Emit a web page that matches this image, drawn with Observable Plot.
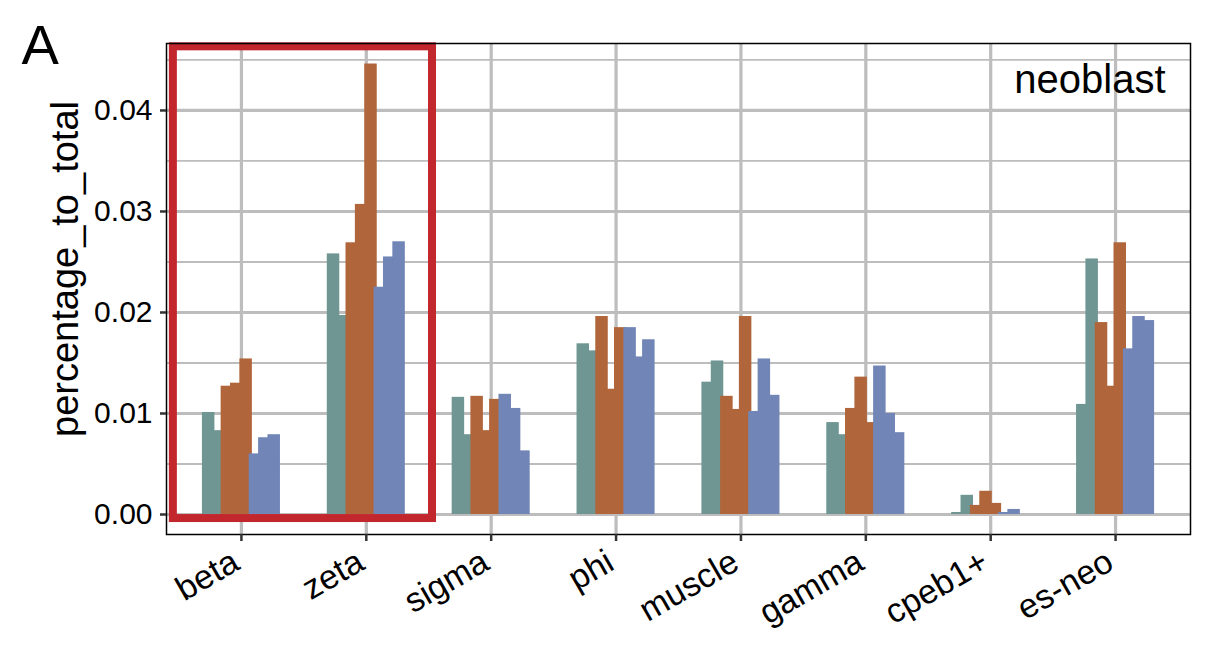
<!DOCTYPE html>
<html>
<head>
<meta charset="utf-8">
<script src="https://cdn.jsdelivr.net/npm/d3@7"></script>
<script src="https://cdn.jsdelivr.net/npm/@observablehq/plot@0.6"></script>
<style>
  html, body { margin: 0; padding: 0; background: #fff; }
  #chart { width: 1222px; height: 646px; }
</style>
</head>
<body>
<div id="chart"></div>
<script>
// ---- data ----
const categories = ["beta", "zeta", "sigma", "phi", "muscle", "gamma", "cpeb1+", "es-neo"];
const seriesNames = ["cond1_a", "cond1_b", "cond2_a", "cond2_b", "cond2_c", "cond3_a", "cond3_b", "cond3_c"];
const seriesGroup = ["cond1", "cond1", "cond2", "cond2", "cond2", "cond3", "cond3", "cond3"];
const groupNames = ["cond1", "cond2", "cond3"];
const groupColors = ["#6F9692", "#B0653A", "#7186B6"];
const cond1_a = [0.0101, 0.0258, 0.0116, 0.0169, 0.0131, 0.0091, 0.0002, 0.0109];
const cond1_b = [0.0083, 0.0197, 0.0079, 0.0162, 0.0152, 0.0079, 0.0019, 0.0253];
const cond2_a = [0.0127, 0.0269, 0.0117, 0.0196, 0.0117, 0.0105, 0.0009, 0.0190];
const cond2_b = [0.0130, 0.0307, 0.0083, 0.0124, 0.0104, 0.0136, 0.0023, 0.0127];
const cond2_c = [0.0154, 0.0446, 0.0114, 0.0185, 0.0196, 0.0091, 0.0011, 0.0269];
const cond3_a = [0.0060, 0.0225, 0.0119, 0.0185, 0.0102, 0.0147, 0.0002, 0.0164];
const cond3_b = [0.0076, 0.0255, 0.0105, 0.0156, 0.0154, 0.0100, 0.0005, 0.0196];
const cond3_c = [0.0079, 0.0270, 0.0063, 0.0173, 0.0118, 0.0081, 0.0000, 0.0192];
const majorTicks = [0, 0.01, 0.02, 0.03, 0.04];
const minorTicks = [0.005, 0.015, 0.025, 0.035, 0.045];
const highlighted = ["beta", "zeta"];
const panelLabel = "neoblast";
const figureLetter = "A";
const yTitle = "percentage_to_total";

// ---- build table ----
const seriesValues = [cond1_a, cond1_b, cond2_a, cond2_b, cond2_c, cond3_a, cond3_b, cond3_c];
const nS = seriesValues.length;
const dodge = 0.6, barW = 0.1;
const rows = [];
categories.forEach((c, i) => {
  seriesValues.forEach((vals, j) => {
    const center = i + (j - (nS - 1) / 2) * dodge / nS;
    rows.push({cat: c, series: seriesNames[j], group: seriesGroup[j], value: vals[i], x1: center - barW / 2, x2: center + barW / 2});
  });
});
const hiIdx = highlighted.map(c => categories.indexOf(c));
const box = [{x1: d3.min(hiIdx) - 0.545, x2: d3.max(hiIdx) + 0.53, y1: -0.0004, y2: 0.0463}];
const catIdx = d3.range(categories.length);

const font = "'Liberation Sans', Arial, Helvetica, sans-serif";
const gridColor = "#bdbdbd";

const plot = Plot.plot({
  width: 1222,
  height: 646,
  marginLeft: 166,
  marginRight: 32,
  marginTop: 43,
  marginBottom: 112,
  style: {fontFamily: font, fontSize: "30px", background: "#fff", color: "#000"},
  x: {type: "linear", domain: [-0.6, categories.length - 0.4]},
  y: {domain: [-0.00198, 0.04663]},
  color: {type: "ordinal", domain: groupNames, range: groupColors},
  marks: [
    Plot.ruleY(minorTicks, {stroke: gridColor, strokeWidth: 1.8}),
    Plot.ruleY(majorTicks, {stroke: gridColor, strokeWidth: 3.2}),
    Plot.ruleX(catIdx, {stroke: gridColor, strokeWidth: 3.2}),
    Plot.rectY(rows, {x1: "x1", x2: "x2", y1: 0, y2: "value", fill: "group"}),
    Plot.rect(box, {x1: "x1", x2: "x2", y1: "y1", y2: "y2", fill: "none", stroke: "#C1272D", strokeWidth: 8}),
    Plot.frame({stroke: "#000", strokeWidth: 1.5}),
    Plot.axisY({ticks: majorTicks, tickFormat: d3.format(".2f"), tickSize: 6, tickPadding: 8, label: null, stroke: "#333", strokeWidth: 2.5}),
    Plot.axisX({ticks: catIdx, tickFormat: () => "", tickSize: 7, label: null, stroke: "#333", strokeWidth: 2.5}),
    Plot.text(catIdx, {x: d => d, text: d => categories[d], frameAnchor: "bottom", dx: -12, dy: 13, rotate: -30, fontSize: 34, textAnchor: "end", lineAnchor: "top"}),
    Plot.text([yTitle], {text: d => d, frameAnchor: "left", dx: -101, dy: -20, rotate: -90, fontSize: 38, lineAnchor: "middle", textAnchor: "middle"}),
    Plot.text([panelLabel], {text: d => d, frameAnchor: "top-right", dx: -25, dy: 49, fontSize: 40, lineAnchor: "bottom", textAnchor: "end"}),
    Plot.text([figureLetter], {text: d => d, frameAnchor: "top-left", dx: -145, dy: 20, fontSize: 56, lineAnchor: "bottom", textAnchor: "start"})
  ]
});
document.getElementById("chart").appendChild(plot);
</script>
</body>
</html>
